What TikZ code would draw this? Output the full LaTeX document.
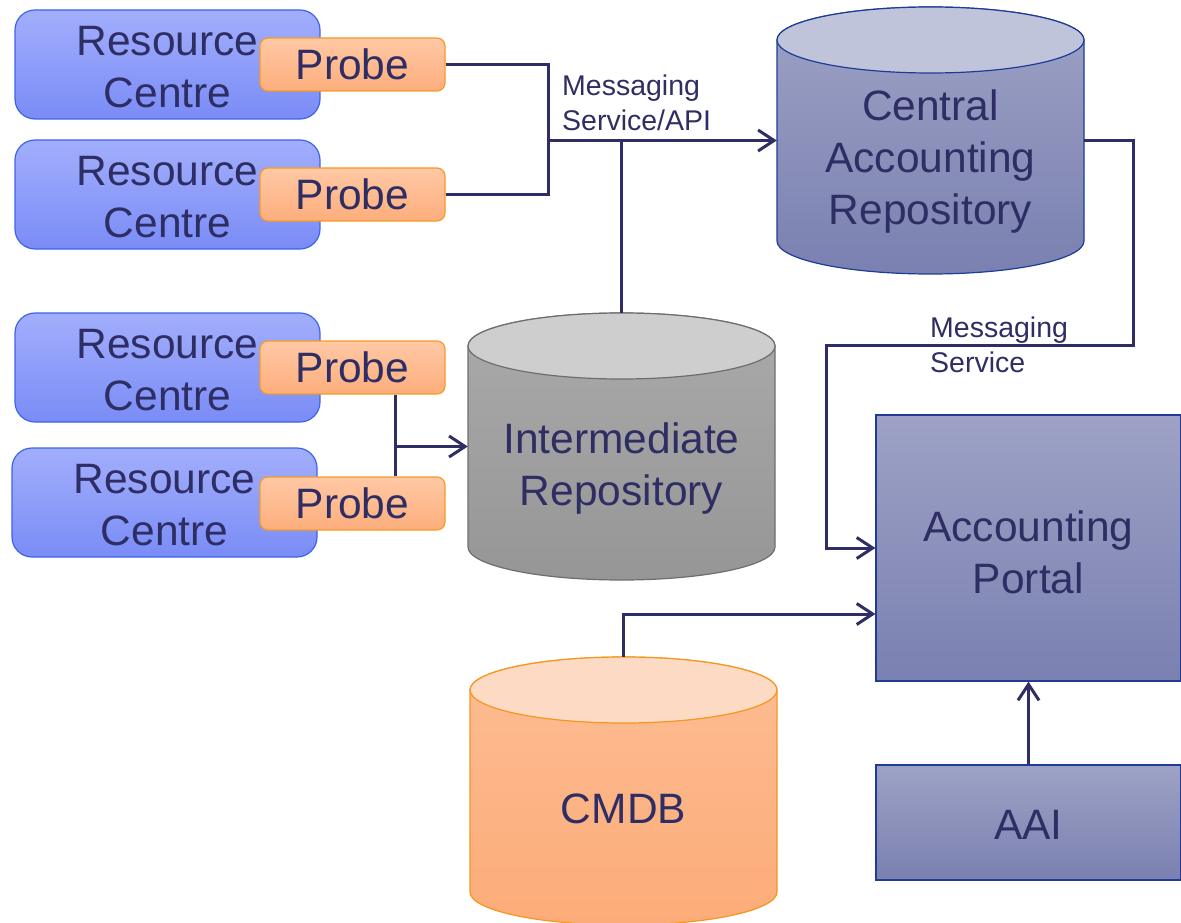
\documentclass[tikz,border=0pt]{standalone}
\usepackage{fontspec}
\setmainfont{Liberation Sans}
\usetikzlibrary{arrows.meta}
\definecolor{txt}{RGB}{46,46,100}
\definecolor{lnc}{RGB}{46,46,100}
\definecolor{rctop}{RGB}{162,174,252}
\definecolor{rcbot}{RGB}{122,140,246}
\definecolor{rcdraw}{RGB}{60,100,232}
\definecolor{prtop}{RGB}{255,200,165}
\definecolor{prbot}{RGB}{253,174,124}
\definecolor{prdraw}{RGB}{245,155,40}
\definecolor{pvtop}{RGB}{158,162,198}
\definecolor{pvbot}{RGB}{122,128,176}
\definecolor{pvdraw}{RGB}{30,60,150}
\definecolor{cartop}{RGB}{192,196,218}
\definecolor{irtop}{RGB}{206,206,206}
\definecolor{irbt}{RGB}{170,170,170}
\definecolor{irbb}{RGB}{150,150,150}
\definecolor{irdraw}{RGB}{110,110,110}
\definecolor{cmtop}{RGB}{253,218,195}
\definecolor{cmbt}{RGB}{253,188,148}
\definecolor{cmbb}{RGB}{252,172,120}
\definecolor{cmdraw}{RGB}{245,150,30}
\newcommand{\mycyl}[7]{%
  \path[#6] ({#1-#2},#3) -- ({#1-#2},#4) arc[start angle=180,end angle=360,x radius=#2,y radius=#5] -- ({#1+#2},#3) arc[start angle=0,end angle=180,x radius=#2,y radius=#5] -- cycle;
  \path[#7] (#1,#3) ellipse[x radius=#2,y radius=#5];
}
\begin{document}
\begin{tikzpicture}[x=1pt,y=1pt,
  bigtext/.style={text=txt,font=\fontsize{42.5}{52}\selectfont,align=center},
  rcbox/.style={draw=rcdraw,line width=1.2pt,top color=rctop,bottom color=rcbot,rounded corners=20pt,minimum width=305pt,minimum height=109pt,inner sep=0pt},
  probebox/.style={draw=prdraw,line width=1.2pt,top color=prtop,bottom color=prbot,rounded corners=8pt,minimum width=185pt,minimum height=53pt,bigtext,inner sep=0pt},
  pvbox/.style={draw=pvdraw,line width=1.2pt,top color=pvtop,bottom color=pvbot,minimum width=305pt,inner sep=0pt},
  area/.style={inner sep=0pt,minimum width=307pt},
  conn/.style={draw=lnc,line width=3pt},
  arr/.style={conn,-{Straight Barb[length=16pt,width=21pt,line width=3pt]}},
  lbl/.style={text=txt,font=\fontsize{28.5}{35}\selectfont,align=left,inner sep=0pt},
  intext/.style={bigtext,inner sep=0pt,yshift=-3pt}
]
\useasboundingbox (0,0) rectangle (1181,-923);
% cylinders
\mycyl{930.5}{153.5}{-40}{-241}{33}{draw=pvdraw,line width=1.2pt,top color=pvtop,bottom color=pvbot}{draw=pvdraw,line width=1.2pt,fill=cartop}
\mycyl{621.5}{153.5}{-346}{-547}{33}{draw=irdraw,line width=1.2pt,top color=irbt,bottom color=irbb}{draw=irdraw,line width=1.2pt,fill=irtop}
\mycyl{623.5}{153.5}{-690}{-892}{33}{draw=cmdraw,line width=1.2pt,top color=cmbt,bottom color=cmbb}{draw=cmdraw,line width=1.2pt,fill=cmtop}
\node[area,minimum height=267pt] (car) at (930.5,-140.5) {};
\node[area,minimum height=267pt] (ir) at (621.5,-446.5) {};
\node[area,minimum height=266pt] (cmdb) at (623.5,-790) {};
\node[bigtext] (cartext) at (930.5,-162) {Central\\Accounting\\Repository};
\node[bigtext] (irtext) at (621.5,-469) {Intermediate\\Repository};
\node[bigtext] (cmdbtext) at (623.5,-809) {CMDB};
% resource centres and probes
\node[rcbox,label={[intext]center:Resource\\Centre}] (rc1) at (167.5,-64.5) {};
\node[rcbox,label={[intext]center:Resource\\Centre}] (rc2) at (167.5,-194.5) {};
\node[rcbox,label={[intext]center:Resource\\Centre}] (rc3) at (167.5,-367.5) {};
\node[rcbox,label={[intext]center:Resource\\Centre}] (rc4) at (164.5,-502.5) {};
\node[probebox] (p1) at (352.5,-64.5) {Probe};
\node[probebox] (p2) at (352.5,-194.5) {Probe};
\node[probebox] (p3) at (352.5,-367.5) {Probe};
\node[probebox] (p4) at (352.5,-503.5) {Probe};
% portal and AAI
\node[pvbox,minimum height=266pt,label={[intext,yshift=-1pt]center:Accounting\\Portal}] (portal) at (1028.5,-548) {};
\node[pvbox,minimum height=115pt,label={[intext,yshift=1pt]center:AAI}] (aai) at (1028.5,-822.5) {};
% coordinates
\coordinate (j1) at (548,-140.5);
\coordinate (j2) at (395,-446.5);
\coordinate (j3) at (623.5,-614);
\coordinate (k1) at (1133,-345);
\coordinate (k2) at (826,-345);
% connectors
\draw[conn] (p1.east) -| (j1);
\draw[conn] (p2.east) -| (j1);
\draw[arr] (j1) -- (car.west);
\draw[conn] (j1 -| ir.north) -- (ir.north);
\draw[conn] (p3.south -| j2) -- (p4.north -| j2);
\draw[arr] (j2) -- (ir.west);
\draw[arr] (car.east) -| (k1) -- (k2) |- (portal.west);
\draw[arr] (cmdb.north) -- (j3) -- (j3 -| portal.west);
\draw[arr] (aai.north) -- (portal.south);
% labels
\node[lbl,anchor=west] (l1) at (562,-103) {Messaging\\Service/API};
\node[lbl,anchor=west] (l2) at (930,-344.5) {Messaging\\Service};
\end{tikzpicture}
\end{document}
